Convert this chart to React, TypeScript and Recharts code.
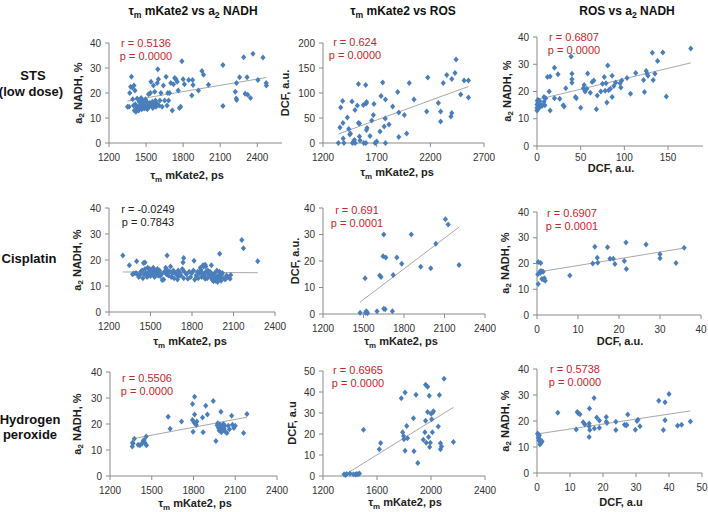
import React from 'react';
import { ScatterChart, Scatter, XAxis, YAxis } from 'recharts';

type Pt = [number, number];

// Row 1: STS (low dose)
const stsTauNadh: Pt[] = [[1350,14.5],[1362,14.5],[1368,20],[1375,22.5],[1382,26.5],[1388,22.2],[1392,17.5],[1398,15],[1402,23],[1405,13],[1410,21],[1413,15.5],[1418,12.5],[1423,14],[1428,17.8],[1433,14.5],[1440,13],[1445,16.5],[1450,14],[1455,15.5],[1460,18],[1465,13.5],[1470,17],[1475,14.5],[1480,16],[1485,13.8],[1490,15],[1495,17.5],[1500,14],[1505,16.5],[1510,13.5],[1515,15],[1520,19.5],[1525,14.5],[1530,16],[1535,20],[1540,24.5],[1545,15],[1550,16.5],[1555,14],[1560,23],[1565,15.5],[1570,20.5],[1575,17],[1580,14.5],[1585,16],[1590,24],[1595,29.5],[1600,25.5],[1605,15],[1612,17],[1620,20],[1630,14.5],[1640,23],[1650,17],[1662,26.5],[1670,15],[1676,20],[1682,17],[1690,20],[1700,24],[1712,13],[1722,23.5],[1732,26],[1742,25.5],[1752,24.5],[1760,21],[1770,14],[1780,14.5],[1790,32.7],[1800,25.5],[1810,23.5],[1845,25.2],[1870,19],[1876,25.2],[1880,23.2],[1924,21],[1952,28.8],[1965,27.3],[2005,23.3],[2122,31.2],[2122,14.8],[2222,20.5],[2230,17.8],[2233,17.2],[2232,24],[2257,26.3],[2290,34.3],[2302,19.7],[2317,26.3],[2322,19.3],[2345,18],[2365,35.7],[2405,25.2],[2446,34.2],[2472,24],[2474,23]];
const stsTauNadhTrend: Pt[] = [[1350,16.8],[2474,26.2]];

const stsTauRos: Pt[] = [[1343,0],[1358,31],[1365,71],[1383,84],[1386,40],[1388,9],[1395,0],[1427,51],[1440,28],[1450,17],[1455,19],[1470,83],[1475,0],[1485,3],[1492,6],[1500,0],[1498,66],[1520,75],[1530,118],[1530,40],[1540,39],[1540,13],[1545,5],[1576,76],[1580,0],[1600,0],[1598,116],[1602,79],[1606,82],[1605,26],[1610,30],[1638,14],[1654,45],[1669,56],[1675,78],[1685,0],[1700,3],[1731,23],[1741,94],[1756,121],[1770,33],[1780,49],[1782,87],[1782,0],[1815,37],[1849,73],[1896,102],[1906,61],[1906,12],[1958,56],[1979,19],[2004,120],[2048,87],[2166,63],[2176,131],[2275,80],[2296,63],[2296,43],[2320,120],[2353,136],[2400,128],[2400,60],[2392,53],[2430,140],[2440,167],[2483,97],[2515,125],[2555,125],[2555,91]];
const stsTauRosTrend: Pt[] = [[1343,18],[2555,113]];

const stsRosNadh: Pt[] = [[0,13],[0,14],[0,15.2],[0.5,16.5],[1,17],[1,13.5],[1.5,16],[2,15],[2,14.2],[3,16.5],[3,15.5],[4,14.5],[5,15],[6,14.8],[8,16.2],[8,18],[9,15],[10,17.5],[12,25.3],[14,20],[15,25.5],[15,13],[20,28.7],[20,17.5],[24,26.3],[26,17.3],[30,15],[31,14.5],[33,21.2],[39,32.8],[40,26.5],[40,24.5],[40,23.2],[44,18],[45,17.5],[50,14],[53,21.2],[54,22.4],[55,20],[58,26.6],[57,21],[61,19.5],[63,23.5],[65,24],[68,13.5],[69,18.5],[73,20],[75,22.8],[77,25.3],[78,20.3],[79,23],[81,29.5],[80,16],[82,20.5],[84,21],[86,18],[86,25.8],[88,22],[90,23.3],[95,23],[96,21.5],[97,24],[103,25],[107,19.2],[113,26.8],[122,24.2],[123,19.8],[125,27.5],[126,26.5],[127,25.8],[132,34.2],[133,24.2],[135,26.5],[138,31.2],[144,34.3],[148,18.2],[176,35.8]];
const stsRosNadhTrend: Pt[] = [[0,17],[176,30.5]];

// Row 2: Cisplatin
const cisTauNadh: Pt[] = [[1300,21.7],[1347,18],[1400,19.5],[1450,18.8],[1460,19],[1620,21.7],[1740,20.8],[1735,19],[1815,19.7],[1880,18],[1940,18],[2000,22.4],[2160,27.7],[2172,24.5],[2275,19.5],[1900,17.5],[1895,18.2],[1370,14.5],[1380,14.8],[1395,15],[1405,14.5],[1415,13.5],[1425,14.2],[1430,15.5],[1440,16],[1445,13],[1455,14.5],[1460,16.5],[1468,15],[1475,13.5],[1480,17],[1485,14],[1490,15.5],[1495,16.5],[1500,13.8],[1505,15],[1510,16],[1515,14.5],[1520,17],[1525,15.5],[1530,13.5],[1535,16],[1540,14.8],[1545,15.5],[1550,16.5],[1555,14],[1560,15],[1565,16],[1570,13.8],[1580,14.5],[1585,12.3],[1595,12.5],[1600,15.5],[1610,17],[1615,14.5],[1625,16],[1630,14],[1640,15.5],[1645,17.5],[1650,13.5],[1660,14.8],[1665,16],[1670,13],[1680,15],[1690,14.2],[1695,12.5],[1700,16],[1705,13.8],[1715,15],[1720,14],[1730,16.5],[1740,13],[1745,15.5],[1760,14.5],[1770,12.8],[1780,15.5],[1790,13.5],[1800,15],[1810,16],[1820,12.5],[1830,14],[1840,15.5],[1845,13],[1855,14.8],[1860,17],[1865,16.2],[1870,13.5],[1875,15],[1885,17.5],[1890,14],[1895,12.8],[1900,15.5],[1910,13],[1915,16],[1920,14.5],[1930,15.5],[1935,13.5],[1945,12.5],[1950,14.5],[1955,11.8],[1960,13.2],[1965,15],[1970,12],[1975,13.5],[1980,16],[1985,11.5],[1990,14],[1995,12.8],[2000,15.5],[2005,13.5],[2010,12],[2015,14.5],[2020,15],[2030,13],[2040,12.5],[2050,14],[2060,13.5],[2075,12.8],[2080,14.2]];
const cisTauNadhTrend: Pt[] = [[1300,15.4],[2275,15.1]];

const cisTauRos: Pt[] = [[1475,0.5],[1512,13.5],[1515,0.5],[1520,1],[1525,0.8],[1530,0.3],[1600,1],[1620,14.5],[1630,14],[1645,21.8],[1650,30],[1650,2],[1660,1.8],[1665,21.3],[1714,1],[1720,14.7],[1747,21.3],[1783,19],[1854,30],[1924,17.8],[1998,17.3],[2036,26.5],[2107,35.8],[2127,33.8],[2208,18.5]];
const cisTauRosTrend: Pt[] = [[1475,4.5],[2208,32.8]];

const cisRosNadh: Pt[] = [[0.3,12],[0.2,15.8],[0.3,20.6],[0.9,20.2],[0.8,16.3],[0.8,17],[1.2,17],[1.2,14],[1.6,13.8],[1.8,14.3],[2,13.3],[1.5,16.8],[8,15.3],[13.6,20],[14.1,26.5],[14.7,22.2],[14.8,20.3],[17.2,26.3],[17.8,21.8],[18.6,21.8],[19,19.8],[21.3,21],[21.7,28.2],[21.8,17.9],[26.6,27.4],[30,23.6],[30,22],[33.9,20.2],[35.9,26.1]];
const cisRosNadhTrend: Pt[] = [[0,16.6],[35.9,26]];

// Row 3: Hydrogen peroxide
const h2o2TauNadh: Pt[] = [[1360,11.3],[1365,12.5],[1362,12.8],[1375,14.3],[1402,12],[1415,11.8],[1430,12.5],[1438,13.5],[1445,13.8],[1450,12.8],[1460,15.2],[1462,11.8],[1618,22.8],[1632,18.2],[1714,21],[1793,27.7],[1808,30.5],[1793,21.5],[1805,20.5],[1797,17],[1808,23.7],[1820,19.6],[1824,21],[1865,22.5],[1869,16.8],[1888,27],[1900,23.7],[1942,28.8],[1961,13.5],[1970,19.5],[1975,20.3],[1980,18.5],[1985,17.5],[1990,19.8],[1995,18],[1997,24.7],[2000,16.8],[2005,19],[2010,17.5],[2015,20],[2020,18.2],[2025,19.3],[2030,17],[2040,16.5],[2050,19.3],[2058,18],[2074,23.2],[2080,19.7],[2090,18.5],[2100,19.3],[2160,16.5],[2184,23.8]];
const h2o2TauNadhTrend: Pt[] = [[1360,14.3],[2184,22.6]];

const h2o2TauRos: Pt[] = [[1356,0.8],[1366,0.5],[1375,1],[1400,1.2],[1425,0.8],[1440,0.7],[1450,1],[1460,0.8],[1470,1.2],[1500,22],[1617,12.7],[1627,15.7],[1780,37],[1808,39.8],[1790,20.8],[1797,19],[1800,17.5],[1808,12],[1820,23.8],[1826,18],[1874,11.8],[1870,27.5],[1889,38.7],[1902,6.2],[1943,17.3],[1955,20.8],[1960,26.3],[1960,43.5],[1975,42.5],[1965,15.8],[1975,30.5],[1982,18.6],[1987,38.2],[1990,13.8],[1995,15.8],[2000,29.7],[2005,27],[2010,20.8],[2013,30.2],[2018,30.8],[2054,23.6],[2062,38.6],[2070,15.6],[2078,14],[2070,12.7],[2097,46.3],[2166,16.2]];
const h2o2TauRosTrend: Pt[] = [[1360,0.5],[2166,32.7]];

const h2o2RosNadh: Pt[] = [[0.2,15.2],[0.3,14.9],[0.5,14.2],[0.4,13.5],[0.8,13],[0.6,12.5],[1,12],[1.2,11.5],[0.9,11],[1.5,12.2],[1.3,11.8],[0.7,14.5],[6.3,23.2],[11.9,16.7],[12.2,23.5],[12.5,23],[13,22.6],[14,19.5],[14.5,18.7],[15.9,24.8],[15.8,19],[15.8,18],[15.8,13.8],[16,16.5],[17.3,28.8],[17.4,17.1],[18.1,21.3],[18.9,20.2],[18.9,17.4],[21,21.5],[21,19.7],[21.2,19.2],[23.9,19.7],[23.9,16.5],[26.5,18.6],[27,18.4],[27.2,18.5],[27.5,22.5],[29.8,16.6],[30.3,20],[30.6,20.5],[31.2,18],[36.9,27.8],[38.3,16.5],[38.8,27.2],[38.8,20.3],[40,30.4],[42.6,18.2],[43.8,18.6],[46.5,19.8]];
const h2o2RosNadhTrend: Pt[] = [[0,15],[46.5,23.9]];

// Tick labels
const tauTicksA = [1200, 1500, 1800, 2100, 2400];
const tauTicksB = [1200, 1700, 2200, 2700];
const tauTicksC = [1200, 1600, 2000, 2400];
const nadhTicks = [0, 10, 20, 30, 40];
const dcfTicks200 = [0, 50, 100, 150, 200];
const dcfTicks50 = [0, 10, 20, 30, 40, 50];
const dcfTicks150 = [0, 50, 100, 150];

const FONT = '"Liberation Sans", Arial, sans-serif';
const BLUE = '#4a7ebb';
const AXIS = '#8a8a8a';
const RED = '#c9252b';

const Diamond = (props: any) => {
  const { cx, cy } = props;
  if (cx == null || cy == null) return <g />;
  return <path d={`M${cx},${cy - 3}L${cx + 2.6},${cy}L${cx},${cy + 3}L${cx - 2.6},${cy}Z`} fill={BLUE} />;
};
const NoShape = () => <g />;

type Rect = { x: number; y: number; w: number; h: number };

function Panel(props: {
  data: Pt[]; trend: Pt[]; plot: Rect;
  xDomain: [number, number]; xTicks: number[];
  yDomain: [number, number]; yTicks: number[]; xMargin?: number;
}) {
  const { data, trend, plot, xDomain, xTicks, yDomain, yTicks, xMargin = 7 } = props;
  const ML = 40, MT = 10, MR = 14, MB = 26;
  const pts = data.map(([x, y]) => ({ x, y }));
  const tr = trend.map(([x, y]) => ({ x, y }));
  return (
    <div style={{ position: 'absolute', left: plot.x - ML, top: plot.y - MT }}>
      <ScatterChart width={plot.w + ML + MR} height={plot.h + MT + MB}
        margin={{ top: MT, right: MR, bottom: 0, left: 0 }}>
        <XAxis type="number" dataKey="x" domain={xDomain} ticks={xTicks} interval={0}
          height={MB} tickSize={4} tickMargin={xMargin} stroke={AXIS}
          tick={{ fill: '#333', fontSize: 10, fontFamily: FONT }} />
        <YAxis type="number" dataKey="y" domain={yDomain} ticks={yTicks} interval={0}
          width={ML} tickSize={4} tickMargin={4} stroke={AXIS}
          tick={{ fill: '#333', fontSize: 10, fontFamily: FONT }} />
        <Scatter data={tr} line={{ stroke: '#a8a8a8', strokeWidth: 1 }} shape={NoShape} isAnimationActive={false} />
        <Scatter data={pts} shape={Diamond} isAnimationActive={false} />
      </ScatterChart>
    </div>
  );
}

const Sub = ({ children }: { children: string }) => (
  <tspan baselineShift={-3} fontSize="0.72em">{children}</tspan>
);

const Stat = ({ x, y, r, p, color }: { x: number; y: number; r: string; p: string; color: string }) => (
  <g fontSize={11} fill={color} textAnchor="middle" fontFamily={FONT}>
    <text x={x} y={y} dominantBaseline="central">{r}</text>
    <text x={x} y={y + 12.5} dominantBaseline="central">{p}</text>
  </g>
);

const YTitle = ({ x, y }: { x: number; y: number }) => (
  <text x={x} y={y} transform={`rotate(-90 ${x} ${y})`} textAnchor="middle" dominantBaseline="central"
    fontSize={11} fontWeight="bold" fontFamily={FONT} fill="#222">
    a<Sub>2</Sub> NADH, %
  </text>
);

export default function App() {
  return (
    <div style={{ position: 'absolute', left: 0, top: 0, width: 708, height: 512, overflow: 'hidden', background: '#fff' }}>
      <Panel data={stsTauNadh} trend={stsTauNadhTrend} plot={{ x: 109, y: 43, w: 173, h: 100 }}
        xDomain={[1200, 2600]} xTicks={tauTicksA} yDomain={[0, 40]} yTicks={nadhTicks} />
      <Panel data={stsTauRos} trend={stsTauRosTrend} plot={{ x: 323, y: 43, w: 161, h: 100 }}
        xDomain={[1200, 2700]} xTicks={tauTicksB} yDomain={[0, 200]} yTicks={dcfTicks200} />
      <Panel data={stsRosNadh} trend={stsRosNadhTrend} plot={{ x: 537, y: 37, w: 166, h: 109 }}
        xDomain={[0, 190]} xTicks={dcfTicks150} yDomain={[0, 40]} yTicks={nadhTicks} xMargin={4} />

      <Panel data={cisTauNadh} trend={cisTauNadhTrend} plot={{ x: 109, y: 208, w: 166, h: 104 }}
        xDomain={[1200, 2400]} xTicks={tauTicksA} yDomain={[0, 40]} yTicks={nadhTicks} />
      <Panel data={cisTauRos} trend={cisTauRosTrend} plot={{ x: 323, y: 208, w: 162, h: 106 }}
        xDomain={[1200, 2400]} xTicks={tauTicksA} yDomain={[0, 40]} yTicks={nadhTicks} />
      <Panel data={cisRosNadh} trend={cisRosNadhTrend} plot={{ x: 537, y: 212, w: 164, h: 103 }}
        xDomain={[0, 40]} xTicks={nadhTicks} yDomain={[0, 40]} yTicks={nadhTicks} />

      <Panel data={h2o2TauNadh} trend={h2o2TauNadhTrend} plot={{ x: 110, y: 372, w: 167, h: 104 }}
        xDomain={[1200, 2400]} xTicks={tauTicksA} yDomain={[0, 40]} yTicks={nadhTicks} />
      <Panel data={h2o2TauRos} trend={h2o2TauRosTrend} plot={{ x: 323, y: 371, w: 162, h: 105 }}
        xDomain={[1200, 2400]} xTicks={tauTicksC} yDomain={[0, 50]} yTicks={dcfTicks50} />
      <Panel data={h2o2RosNadh} trend={h2o2RosNadhTrend} plot={{ x: 537, y: 369, w: 165, h: 104 }}
        xDomain={[0, 50]} xTicks={dcfTicks50} yDomain={[0, 40]} yTicks={nadhTicks} />

      <svg width={708} height={512} style={{ position: 'absolute', left: 0, top: 0, pointerEvents: 'none' }}>
        <g fontFamily={FONT} fontWeight="bold" fontSize={12} fill="#111" textAnchor="middle">
          <text x={193} y={15}>τ<Sub>m</Sub> mKate2  vs a<Sub>2</Sub> NADH</text>
          <text x={403} y={15}>τ<Sub>m</Sub> mKate2 vs ROS</text>
          <text x={627} y={15}>ROS vs a<Sub>2</Sub> NADH</text>
        </g>
        <g fontFamily={FONT} fontWeight="bold" fontSize={13} fill="#111" textAnchor="middle" dominantBaseline="central">
          <text x={33} y={75}>STS</text>
          <text x={31} y={91}>(low dose)</text>
          <text x={29} y={258}>Cisplatin</text>
          <text x={30} y={419}>Hydrogen</text>
          <text x={30} y={434}>peroxide</text>
        </g>
        <YTitle x={78} y={93} />
        <YTitle x={77} y={260} />
        <YTitle x={77} y={424} />
        <YTitle x={507} y={91} />
        <YTitle x={505} y={263} />
        <YTitle x={505} y={421} />
        <g fontFamily={FONT} fontWeight="bold" fontSize={11} fill="#222" textAnchor="middle" dominantBaseline="central">
          <text x={285} y={93} transform="rotate(-90 285 93)">DCF, a.u.</text>
          <text x={295} y={261} transform="rotate(-90 295 261)">DCF, a.u.</text>
          <text x={292} y={423} transform="rotate(-90 292 423)">DCF, a.u</text>
        </g>
        <g fontFamily={FONT} fontWeight="bold" fontSize={11} fill="#222" textAnchor="middle">
          <text x={187} y={179}>τ<Sub>m</Sub> mKate2, ps</text>
          <text x={397} y={176}>τ<Sub>m</Sub> mKate2, ps</text>
          <text x={611} y={172}>DCF, a.u.</text>
          <text x={190} y={345}>τ<Sub>m</Sub> mKate2, ps</text>
          <text x={401} y={345}>τ<Sub>m</Sub> mKate2, ps</text>
          <text x={620} y={345}>DCF, a.u.</text>
          <text x={195} y={507}>τ<Sub>m</Sub> mKate2, ps</text>
          <text x={405} y={506}>τ<Sub>m</Sub> mKate2, ps</text>
          <text x={621} y={506}>DCF, a.u</text>
        </g>
        <Stat x={146} y={43} r="r = 0.5136" p="p = 0.0000" color={RED} />
        <Stat x={355} y={42} r="r = 0.624" p="p = 0.0000" color={RED} />
        <Stat x={574} y={37} r="r = 0.6807" p="p = 0.0000" color={RED} />
        <Stat x={148} y={209} r="r = -0.0249" p="p = 0.7843" color="#222" />
        <Stat x={357} y={210} r="r = 0.691" p="p = 0.0001" color={RED} />
        <Stat x={572} y={213} r="r = 0.6907" p="p = 0.0001" color={RED} />
        <Stat x={147} y={378} r="r = 0.5506" p="p = 0.0000" color={RED} />
        <Stat x={358} y={370} r="r = 0.6965" p="p = 0.0000" color={RED} />
        <Stat x={575} y={369} r="r = 0.5738" p="p = 0.0000" color={RED} />
      </svg>
    </div>
  );
}
